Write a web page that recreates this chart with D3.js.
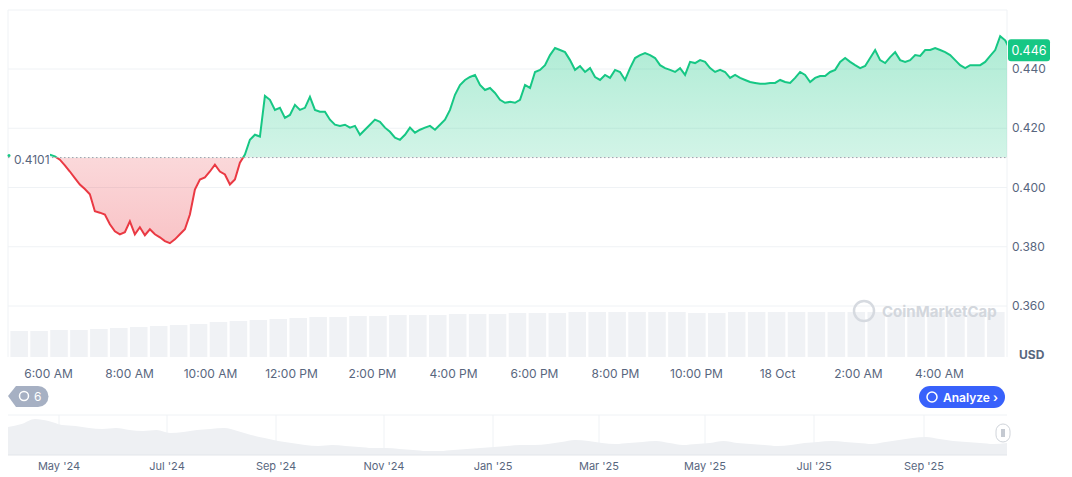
<!DOCTYPE html>
<html><head><meta charset="utf-8">
<script src="https://cdn.jsdelivr.net/npm/d3@7"></script>
<style>body{margin:0;background:#fff;font-family:Inter,"Noto Sans",sans-serif}</style>
</head><body><svg id="c" width="1072" height="477"></svg>
<script>
const baseline = 0.4101;
const lastPrice = "0.446";
const priceTicks = [0.360, 0.380, 0.400, 0.420, 0.440];
const timeTickLabels = ["6:00 AM","8:00 AM","10:00 AM","12:00 PM","2:00 PM","4:00 PM","6:00 PM","8:00 PM","10:00 PM","18 Oct","2:00 AM","4:00 AM"];
const navLabels = ["May '24","Jul '24","Sep '24","Nov '24","Jan '25","Mar '25","May '25","Jul '25","Sep '25"];
const prices = [0.4111,0.4105,0.4094,0.4075,0.4054,0.4032,0.4010,0.3995,0.3977,0.3920,0.3915,0.3909,0.3876,0.3852,0.3842,0.3849,0.3886,0.3842,0.3866,0.3839,0.3859,0.3842,0.3832,0.3819,0.3812,0.3825,0.3842,0.3859,0.3909,0.3993,0.4027,0.4034,0.4054,0.4077,0.4054,0.4044,0.4010,0.4027,0.4084,0.4111,0.4161,0.4178,0.4172,0.4309,0.4296,0.4262,0.4269,0.4235,0.4245,0.4279,0.4262,0.4269,0.4306,0.4262,0.4256,0.4256,0.4229,0.4212,0.4208,0.4212,0.4202,0.4208,0.4178,0.4195,0.4212,0.4229,0.4222,0.4202,0.4188,0.4168,0.4161,0.4178,0.4202,0.4185,0.4195,0.4202,0.4208,0.4195,0.4212,0.4229,0.4262,0.4313,0.4346,0.4363,0.4373,0.4380,0.4346,0.4329,0.4336,0.4319,0.4296,0.4286,0.4289,0.4286,0.4296,0.4346,0.4336,0.4390,0.4397,0.4413,0.4447,0.4471,0.4464,0.4457,0.4430,0.4397,0.4410,0.4390,0.4403,0.4373,0.4363,0.4380,0.4370,0.4397,0.4390,0.4363,0.4403,0.4437,0.4447,0.4454,0.4447,0.4437,0.4413,0.4403,0.4397,0.4390,0.4403,0.4380,0.4424,0.4420,0.4430,0.4424,0.4403,0.4390,0.4397,0.4390,0.4370,0.4380,0.4370,0.4363,0.4356,0.4353,0.4350,0.4350,0.4353,0.4353,0.4363,0.4356,0.4353,0.4370,0.4390,0.4380,0.4356,0.4370,0.4376,0.4376,0.4390,0.4397,0.4424,0.4437,0.4424,0.4413,0.4403,0.4410,0.4437,0.4464,0.4430,0.4420,0.4440,0.4457,0.4430,0.4424,0.4430,0.4447,0.4444,0.4464,0.4464,0.4471,0.4464,0.4457,0.4447,0.4430,0.4413,0.4403,0.4413,0.4413,0.4413,0.4424,0.4444,0.4464,0.4511,0.4497,0.4464];
const volumes = [26,26,27,27,28,29,30,31,32,33,35,36,37,38,39,40,40,41,41,42,42,42,43,43,43,44,44,44,45,45,45,45,45,45,44,44,45,45,45,45,45,45,45,45,45,45,45,45,45,45];
const navValues = [28,31,36,34,30,29,27,26,27,25,24,25,22,23,25,26,27,24,20,17,14,12,10,9,10,9,8,7,7,6,5,4,4,5,6,7,8,9,10,10,11,13,15,14,12,11,12,13,14,12,10,11,12,14,12,11,10,9,10,12,13,14,13,12,11,13,15,17,18,16,14,13,12,11,12];

const svg = d3.select("#c");
const L=8,R=1007,T=10,B=357;
const t0 = new Date(2025,9,17,5,0), t1 = new Date(2025,9,18,5,40);
const x = d3.scaleTime().domain([t0,t1]).range([L,R]);
const y = d3.scaleLinear().domain([0.36,0.44]).range([306,69]);
const start = new Date(2025,9,17,6,2), stepMin = 7.41;
const data = prices.map((p,i)=>({t:new Date(+start+i*stepMin*60000),p}));

svg.append("line").attr("x1",L).attr("x2",R).attr("y1",T).attr("y2",T).attr("stroke","#eff2f5");
priceTicks.forEach(v=>svg.append("line").attr("x1",L).attr("x2",R).attr("y1",y(v)).attr("y2",y(v)).attr("stroke","#eff2f5"));
svg.append("line").attr("x1",L).attr("x2",L).attr("y1",T).attr("y2",B).attr("stroke","#eff2f5");
svg.append("line").attr("x1",R).attr("x2",R).attr("y1",T).attr("y2",B).attr("stroke","#eff2f5");

const xv = d3.scaleBand().domain(d3.range(volumes.length)).range([L,R]).padding(0.12);
const yv = d3.scaleLinear().domain([0,45]).range([B,312]);
svg.selectAll(".v").data(volumes).join("rect").attr("x",(d,i)=>xv(i)).attr("width",xv.bandwidth()).attr("y",d=>yv(d)).attr("height",d=>B-yv(d)).attr("fill","#f0f2f5");

svg.append("circle").attr("cx",864).attr("cy",311).attr("r",10).attr("fill","none").attr("stroke","#d6dae0").attr("stroke-width",2.5);
svg.append("text").attr("x",882).attr("y",317).text("CoinMarketCap").attr("fill","#d3d7dd").attr("font-size",15).attr("font-weight",700);

const defs = svg.append("defs");
const g1 = defs.append("linearGradient").attr("id","gg").attr("x1",0).attr("x2",0).attr("y1",0).attr("y2",1);
g1.append("stop").attr("offset","0").attr("stop-color","#16c784").attr("stop-opacity",0.35);
g1.append("stop").attr("offset","1").attr("stop-color","#16c784").attr("stop-opacity",0.08);
const g2 = defs.append("linearGradient").attr("id","gr").attr("x1",0).attr("x2",0).attr("y1",0).attr("y2",1);
g2.append("stop").attr("offset","0").attr("stop-color","#ea3943").attr("stop-opacity",0.05);
g2.append("stop").attr("offset","1").attr("stop-color","#ea3943").attr("stop-opacity",0.3);
const by = y(baseline);
defs.append("clipPath").attr("id","ca").append("rect").attr("x",0).attr("y",0).attr("width",1072).attr("height",by);
defs.append("clipPath").attr("id","cb").append("rect").attr("x",0).attr("y",by).attr("width",1072).attr("height",400);
defs.append("clipPath").attr("id","cp").append("rect").attr("x",L).attr("y",0).attr("width",R-L).attr("height",400);

const area = d3.area().x(d=>x(d.t)).y0(by).y1(d=>y(d.p));
const line = d3.line().x(d=>x(d.t)).y(d=>y(d.p));
const gp = svg.append("g").attr("clip-path","url(#cp)");
gp.append("g").attr("clip-path","url(#ca)").append("path").attr("d",area(data)).attr("fill","url(#gg)");
gp.append("g").attr("clip-path","url(#cb)").append("path").attr("d",area(data)).attr("fill","url(#gr)");
svg.append("line").attr("x1",L).attr("x2",R).attr("y1",by).attr("y2",by).attr("stroke","#9aa1ac").attr("stroke-dasharray","1.5,2.5");
gp.append("g").attr("clip-path","url(#ca)").append("path").attr("d",line(data)).attr("fill","none").attr("stroke","#16c784").attr("stroke-width",2);
gp.append("g").attr("clip-path","url(#cb)").append("path").attr("d",line(data)).attr("fill","none").attr("stroke","#ea3943").attr("stroke-width",2);
svg.append("circle").attr("cx",L+1).attr("cy",by-2).attr("r",1.5).attr("fill","#16c784");

svg.append("rect").attr("x",12).attr("y",by-6).attr("width",38).attr("height",14).attr("fill","#fff");
svg.append("text").attr("x",14).attr("y",by+6).text(baseline.toFixed(4)).attr("font-size",12).attr("fill","#58667e");

priceTicks.forEach(v=>svg.append("text").attr("x",1012).attr("y",y(v)+4).text(v.toFixed(3)).attr("font-size",12).attr("fill","#58667e"));
svg.append("text").attr("x",1019).attr("y",359).text("USD").attr("font-size",12).attr("font-weight",700).attr("fill","#58667e");
svg.append("rect").attr("x",1008).attr("y",y(0.4463)-11).attr("width",42).attr("height",22).attr("rx",3).attr("fill","#16c784");
svg.append("text").attr("x",1029).attr("y",y(0.4463)+4.5).attr("text-anchor","middle").text(lastPrice).attr("font-size",12.5).attr("fill","#fff");

const ticks = d3.range(12).map(i=>new Date(2025,9,17,6+2*i));
ticks.forEach((t,i)=>svg.append("text").attr("x",x(t)).attr("y",378).attr("text-anchor","middle").text(timeTickLabels[i]).attr("font-size",12).attr("fill","#58667e"));

svg.append("path").attr("d","M8,396 L16,386 H38 A10,10 0 0 1 38,407 H16 Z").attr("fill","#a6b0c3");
svg.append("circle").attr("cx",24).attr("cy",396).attr("r",4.5).attr("fill","none").attr("stroke","#fff").attr("stroke-width",1.5);
svg.append("text").attr("x",34).attr("y",401).text("6").attr("font-size",12).attr("fill","#fff");
svg.append("rect").attr("x",919).attr("y",386).attr("width",86).attr("height",22).attr("rx",11).attr("fill","#3861fb");
svg.append("circle").attr("cx",932).attr("cy",397).attr("r",5).attr("fill","none").attr("stroke","#fff").attr("stroke-width",1.5);
svg.append("text").attr("x",943).attr("y",401.5).text("Analyze ›").attr("font-size",12).attr("font-weight",600).attr("fill","#fff");

const nt = 415, nb = 455;
const xn = d3.scaleLinear().domain([0,navValues.length-1]).range([L,R]);
const yn = d3.scaleLinear().domain([0,40]).range([nb,nt]);
svg.append("line").attr("x1",L).attr("x2",R).attr("y1",nt).attr("y2",nt).attr("stroke","#eff2f5");
const navX = [59,167,276,384,493,599,705,814,924];
navLabels.forEach((l,i)=>{
  svg.append("line").attr("x1",navX[i]).attr("x2",navX[i]).attr("y1",nt).attr("y2",nb).attr("stroke","#eff2f5");
  svg.append("text").attr("x",navX[i]).attr("y",470).attr("text-anchor","middle").text(l).attr("font-size",11).attr("fill","#58667e");
});
svg.append("path").attr("d",d3.area().x((d,i)=>xn(i)).y0(nb).y1(d=>yn(d)).curve(d3.curveMonotoneX)(navValues)).attr("fill","#eef0f3");
svg.append("line").attr("x1",L).attr("x2",R).attr("y1",nb).attr("y2",nb).attr("stroke","#e3e6ea");
svg.append("rect").attr("x",996).attr("y",424).attr("width",14).attr("height",18).attr("rx",7).attr("fill","#fff").attr("stroke","#d0d4da");
svg.append("line").attr("x1",1002).attr("x2",1002).attr("y1",429).attr("y2",437).attr("stroke","#8a94a4");
svg.append("line").attr("x1",1004).attr("x2",1004).attr("y1",429).attr("y2",437).attr("stroke","#8a94a4");
</script></body></html>
